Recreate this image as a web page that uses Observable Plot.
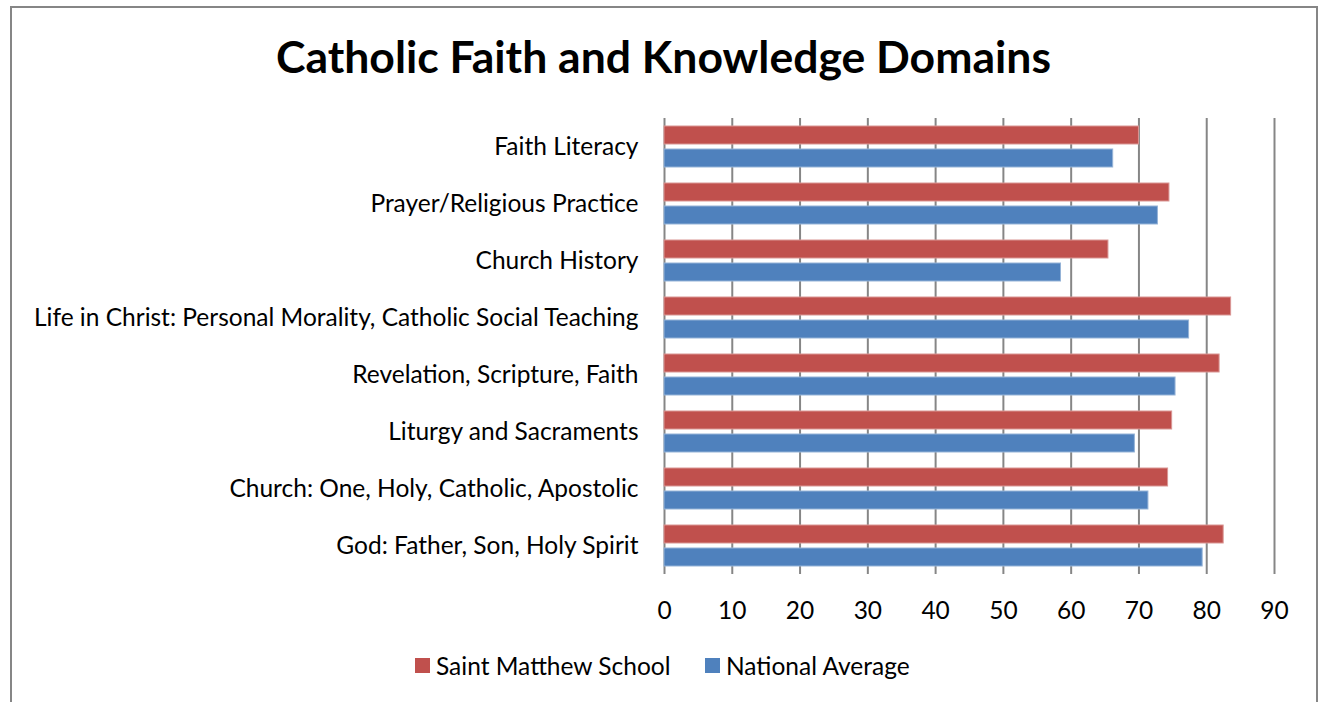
<!DOCTYPE html>
<html>
<head>
<meta charset="utf-8">
<script src="https://cdn.jsdelivr.net/npm/d3@7"></script>
<script src="https://cdn.jsdelivr.net/npm/@observablehq/plot@0.6"></script>
<style>
  html, body { margin: 0; padding: 0; background: #fff; width: 1321px; height: 702px; overflow: hidden; }
  body { position: relative; font-family: Lato, "Open Sans", sans-serif; }
  #frame { position: absolute; left: 10px; top: 6px; width: 1304px; height: 760px; border: 2px solid #868686; }
  #title { position: absolute; left: 0; width: 1327px; top: 29px; text-align: center; font-weight: bold; font-size: 44.5px; color: #000; line-height: 1.2; }
  #chart { position: absolute; left: 0; top: 100px; }
  #legend { position: absolute; top: 650px; left: 0; width: 1321px; font-size: 24.5px; color: #000; }
  .item { position: absolute; top: 0; display: flex; align-items: center; height: 30px; }
  .sw { width: 15px; height: 15px; margin-right: 6px; }
</style>
</head>
<body>
<div id="frame"></div>
<div id="title">Catholic Faith and Knowledge Domains</div>
<div id="chart"></div>
<div id="legend"></div>
<script>
const categories = [
  "Faith Literacy",
  "Prayer/Religious Practice",
  "Church History",
  "Life in Christ: Personal Morality, Catholic Social Teaching",
  "Revelation, Scripture, Faith",
  "Liturgy and Sacraments",
  "Church: One, Holy, Catholic, Apostolic",
  "God: Father, Son, Holy Spirit"
];
const series = ["Saint Matthew School", "National Average"];
const saintMatthew = [70.0, 74.5, 65.5, 83.6, 81.9, 74.9, 74.3, 82.5];
const nationalAverage = [66.2, 72.8, 58.5, 77.4, 75.4, 69.4, 71.4, 79.4];
const xTicks = [0, 10, 20, 30, 40, 50, 60, 70, 80, 90];
const colors = ["#C0504D", "#4F81BD"];
const strokes = ["#D99694", "#95B3D7"];

const data = [];
categories.forEach((c, i) => {
  data.push({category: c, series: series[0], value: saintMatthew[i]});
  data.push({category: c, series: series[1], value: nationalAverage[i]});
});

const chart = Plot.plot({
  width: 1321,
  height: 530,
  marginTop: 18,
  marginBottom: 56,
  marginLeft: 664,
  marginRight: 47,
  style: {fontFamily: "Lato, 'Open Sans', sans-serif", fontSize: "24.5px", color: "#000", background: "transparent"},
  x: {domain: [0, 90], ticks: xTicks, tickSize: 0, tickPadding: 27, label: null},
  y: {domain: series, axis: null, paddingInner: 0.2, paddingOuter: 0.3},
  fy: {domain: categories, padding: 0, label: null, tickSize: 0, tickPadding: 26},
  color: {domain: series, range: colors},
  marks: [
    Plot.ruleX(xTicks, {stroke: "#868686", strokeWidth: 2}),
    Plot.barX(data, {
      x: "value", y: "series", fy: "category", fill: "series",
      stroke: d => d.series === series[0] ? strokes[0] : strokes[1], strokeWidth: 1
    })
  ]
});
document.getElementById("chart").appendChild(chart);

const legend = document.getElementById("legend");
const lefts = [415, 705];
series.forEach((s, i) => {
  const item = document.createElement("div");
  item.className = "item";
  item.style.left = lefts[i] + "px";
  item.innerHTML = `<div class="sw" style="background:${colors[i]}"></div><span>${s}</span>`;
  legend.appendChild(item);
});
</script>
</body>
</html>
